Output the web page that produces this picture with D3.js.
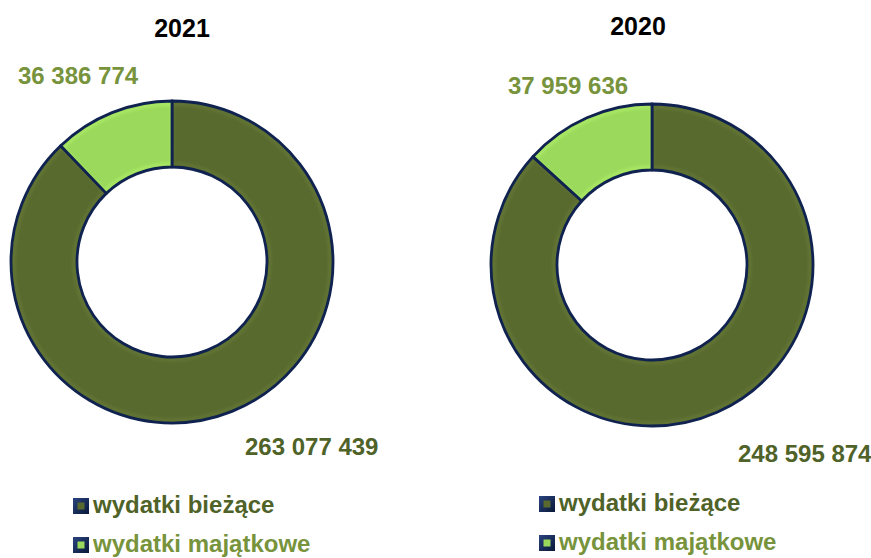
<!DOCTYPE html>
<html><head><meta charset="utf-8">
<script src="https://cdn.jsdelivr.net/npm/d3@7"></script>
<style>
html,body{margin:0;padding:0;background:#fff;}
text{font-family:"Liberation Sans",Arial,sans-serif;font-weight:bold;}
</style></head>
<body>
<svg id="chart" width="871" height="558"></svg>
<script>
// ---- data ----
const years = ["2021", "2020"];
const categories = ["wydatki bieżące", "wydatki majątkowe"];
const values2021 = [263077439, 36386774];
const values2020 = [248595874, 37959636];
const seriesValues = [values2021, values2020];

// ---- style / layout ----
const sliceColors = ["#596A2F", "#9AD95B"];
const labelColors = ["#4F6228", "#77933C"];
const strokeColor = "#0F2250";
const panels = [
  {cx:172, cy:262, titleX:182, titleY:37, smallDx:-154, smallDy:-178, bigDx:73, bigDy:193, legX:73, legY:[498,537]},
  {cx:652, cy:265, titleX:638, titleY:35, smallDx:-144, smallDy:-171, bigDx:86, bigDy:197, legX:539, legY:[496,535]}
];
const R = 161, r = 95;

const svg = d3.select("#chart");
const defs = svg.append("defs");
const blur = defs.append("filter").attr("id","bevelBlur").attr("x","-20%").attr("y","-20%").attr("width","140%").attr("height","140%");
blur.append("feGaussianBlur").attr("stdDeviation",1.6);
const legGrad = defs.append("linearGradient").attr("id","legGrad").attr("x1",0).attr("y1",0).attr("x2",1).attr("y2",1);
legGrad.append("stop").attr("offset","0%").attr("stop-color","#2A4480");
legGrad.append("stop").attr("offset","100%").attr("stop-color","#0A1838");

const fmt = v => d3.format(",")(v).replace(/,/g, " ");
const pie = d3.pie().sort(null).value(d => d);
const arc = d3.arc().innerRadius(r).outerRadius(R);
const arcInset = d3.arc().innerRadius(r+3).outerRadius(R-3);

years.forEach((yr, i) => {
  const p = panels[i];
  const vals = seriesValues[i];
  const g = svg.append("g").attr("transform", `translate(${p.cx},${p.cy})`);
  const arcs = pie(vals);

  arcs.forEach((a, j) => {
    const cid = `clip${i}_${j}`;
    defs.append("clipPath").attr("id", cid).append("path").attr("d", arc(a));
    g.append("path").attr("d", arc(a)).attr("fill", sliceColors[j]);
    // bevel highlight
    const hl = d3.color(sliceColors[j]).brighter(0.7);
    g.append("path").attr("d", arcInset(a)).attr("fill","none")
      .attr("stroke", hl).attr("stroke-width", 2.5).attr("stroke-opacity",0.5)
      .attr("filter","url(#bevelBlur)").attr("clip-path", `url(#${cid})`);
    g.append("path").attr("d", arc(a)).attr("fill","none")
      .attr("stroke", strokeColor).attr("stroke-width", 2.8).attr("stroke-linejoin","round");
  });

  // title
  svg.append("text").attr("x", p.titleX).attr("y", p.titleY)
    .attr("text-anchor","middle").attr("font-size", 25).attr("fill","#000").text(yr);

  // value labels
  svg.append("text").attr("x", p.cx + p.bigDx).attr("y", p.cy + p.bigDy)
    .attr("font-size", 24).attr("fill", labelColors[0]).text(fmt(vals[0]));
  svg.append("text").attr("x", p.cx + p.smallDx).attr("y", p.cy + p.smallDy)
    .attr("font-size", 24).attr("fill", labelColors[1]).text(fmt(vals[1]));

  // legend
  categories.forEach((c, j) => {
    const ly = p.legY[j];
    svg.append("rect").attr("x", p.legX).attr("y", ly).attr("width", 16).attr("height", 16)
      .attr("fill", "url(#legGrad)");
    svg.append("rect").attr("x", p.legX+4.5).attr("y", ly+4.5).attr("width", 7).attr("height", 7)
      .attr("fill", sliceColors[j]);
    svg.append("text").attr("x", p.legX + 20).attr("y", ly + 15)
      .attr("font-size", 24).attr("fill", labelColors[j]).text(c);
  });
});
</script>
</body></html>
